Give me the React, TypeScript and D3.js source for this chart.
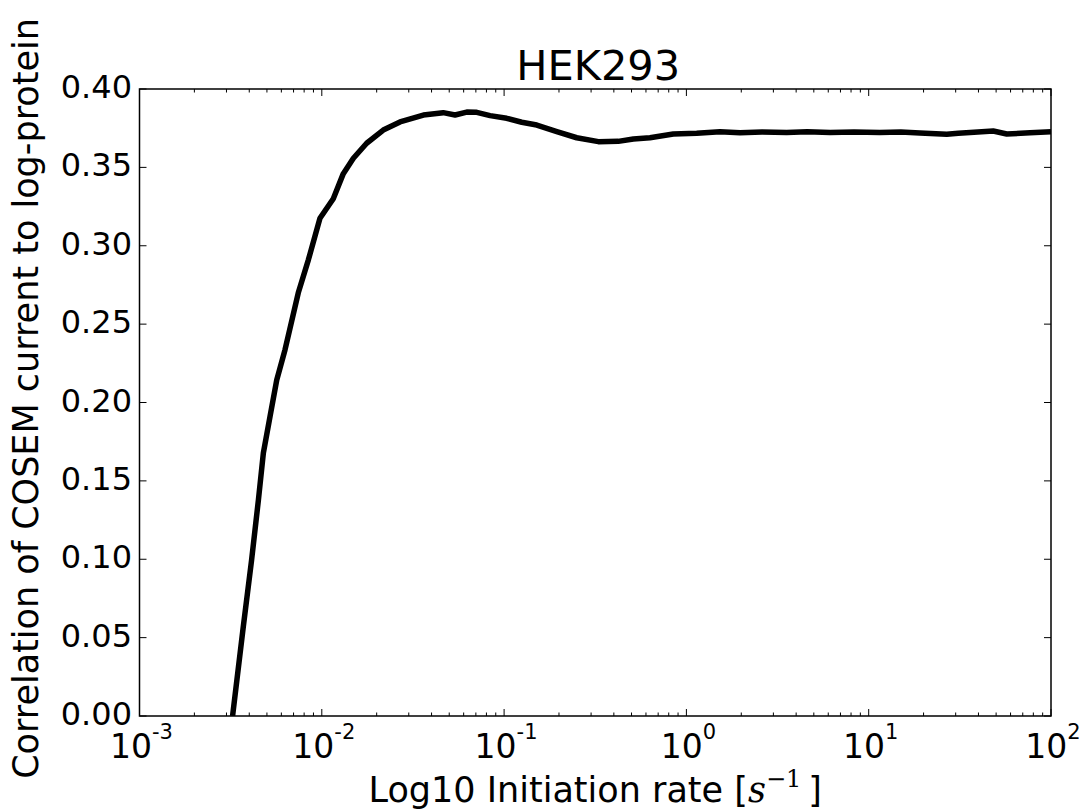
import React, { useRef, useEffect } from "react";
import * as d3 from "d3";

// initiation rate [1/s] and correlation
const rates = [
  0.00324, 0.00371, 0.00412, 0.00449, 0.00478, 0.0052, 0.00566, 0.00628,
  0.00743, 0.00844, 0.00977, 0.01156, 0.01312, 0.0149, 0.01762, 0.02173,
  0.02685, 0.03606, 0.04634, 0.05383, 0.06237, 0.0708, 0.0838, 0.1033, 0.125,
  0.1511, 0.1946, 0.2503, 0.329, 0.4227, 0.5117, 0.631, 0.847, 1.139, 1.528,
  1.968, 2.6, 3.55, 4.6, 6.14, 8.3, 11.5, 15.0, 19.1, 26.8, 31.0, 36.0, 48.2,
  57.2, 76.7, 100,
];
const correlation = [
  0.0, 0.057, 0.0995, 0.1378, 0.1678, 0.191, 0.2144, 0.2335, 0.27, 0.291,
  0.3175, 0.33, 0.346, 0.3558, 0.3654, 0.3738, 0.379, 0.3834, 0.3849, 0.3834,
  0.3853, 0.3851, 0.383, 0.3813, 0.3788, 0.377, 0.3728, 0.3689, 0.3664,
  0.3666, 0.3681, 0.3689, 0.3713, 0.3717, 0.3728, 0.3721, 0.3726, 0.3722,
  0.3728, 0.3722, 0.3725, 0.3722, 0.3726, 0.3719, 0.3711, 0.3718, 0.3722,
  0.3732, 0.3713, 0.3721, 0.3728,
];
const xExponents = [-3, -2, -1, 0, 1, 2];
const yTicks = [0, 0.05, 0.1, 0.15, 0.2, 0.25, 0.3, 0.35, 0.4];

const W = 1081;
const H = 812;
const margin = { top: 89, right: 30, bottom: 96, left: 139.5 };
const font = "'DejaVu Sans', sans-serif";

const App = () => {
  const ref = useRef<SVGSVGElement>(null);

  useEffect(() => {
    const svg = d3.select(ref.current);
    svg.selectAll("*").remove();

    const x0 = margin.left;
    const x1 = W - margin.right;
    const y0 = H - margin.bottom;
    const y1 = margin.top;

    const xScale = d3.scaleLog().domain([1e-3, 1e2]).range([x0, x1]);
    const yScale = d3.scaleLinear().domain([0, 0.4]).range([y0, y1]);

    svg
      .append("defs")
      .append("clipPath")
      .attr("id", "plot-clip")
      .append("rect")
      .attr("x", x0)
      .attr("y", y1)
      .attr("width", x1 - x0)
      .attr("height", y0 - y1);

    // curve
    const line = d3
      .line<number>()
      .x((d, i) => xScale(rates[i]))
      .y((d) => yScale(d));

    svg
      .append("path")
      .datum(correlation)
      .attr("clip-path", "url(#plot-clip)")
      .attr("fill", "none")
      .attr("stroke", "#000")
      .attr("stroke-width", 5.5)
      .attr("stroke-linejoin", "round")
      .attr("d", line);

    // frame
    svg
      .append("rect")
      .attr("x", x0)
      .attr("y", y1)
      .attr("width", x1 - x0)
      .attr("height", y0 - y1)
      .attr("fill", "none")
      .attr("stroke", "#000")
      .attr("stroke-width", 1.5);

    const ticks = svg.append("g").attr("stroke", "#000").attr("stroke-width", 1);

    // x ticks (major + minor), bottom and top, pointing inward
    const minor: number[] = [];
    xExponents.slice(0, -1).forEach((e) => {
      for (let k = 2; k < 10; k++) minor.push(k * Math.pow(10, e));
    });
    const xTicks = [
      ...xExponents.map((e) => ({ v: Math.pow(10, e), len: 7 })),
      ...minor.map((v) => ({ v, len: 3.5 })),
    ];
    xTicks.forEach((t) => {
      const px = xScale(t.v);
      ticks.append("line").attr("x1", px).attr("x2", px).attr("y1", y0).attr("y2", y0 - t.len);
      ticks.append("line").attr("x1", px).attr("x2", px).attr("y1", y1).attr("y2", y1 + t.len);
    });

    // y ticks, left and right
    yTicks.forEach((v) => {
      const py = yScale(v);
      ticks.append("line").attr("x1", x0).attr("x2", x0 + 7).attr("y1", py).attr("y2", py);
      ticks.append("line").attr("x1", x1).attr("x2", x1 - 7).attr("y1", py).attr("y2", py);
    });

    // y tick labels
    svg
      .append("g")
      .selectAll("text")
      .data(yTicks)
      .enter()
      .append("text")
      .attr("x", x0 - 7.5)
      .attr("y", (d) => yScale(d) + 9)
      .attr("text-anchor", "end")
      .attr("font-family", font)
      .attr("font-size", 32)
      .text((d) => d3.format(".2f")(d));

    // x tick labels 10^e
    const xl = svg
      .append("g")
      .selectAll("text")
      .data(xExponents)
      .enter()
      .append("text")
      .attr("x", (d) => xScale(Math.pow(10, d)) + 2)
      .attr("y", 758)
      .attr("text-anchor", "middle")
      .attr("font-family", font)
      .attr("font-size", 33);
    xl.append("tspan").text("10");
    xl.append("tspan")
      .attr("dy", -19)
      .attr("font-size", 21)
      .text((d) => (d < 0 ? "-" + Math.abs(d) : String(d)));

    // title
    svg
      .append("text")
      .attr("x", (x0 + x1) / 2 + 3)
      .attr("y", 80)
      .attr("text-anchor", "middle")
      .attr("font-family", font)
      .attr("font-size", 41.5)
      .text("HEK293");

    // x label
    const xLab = svg
      .append("text")
      .attr("x", (x0 + x1) / 2)
      .attr("y", 802)
      .attr("text-anchor", "middle")
      .attr("font-family", font)
      .attr("font-size", 35);
    xLab.append("tspan").text("Log10 Initiation rate [");
    xLab
      .append("tspan")
      .attr("font-family", "'DejaVu Serif', serif")
      .attr("font-style", "italic")
      .text("s");
    xLab
      .append("tspan")
      .attr("dy", -15)
      .attr("font-size", 24)
      .attr("font-family", "'DejaVu Serif', serif")
      .text("\u22121");
    xLab.append("tspan").attr("dy", 15).text("\u2009]");

    // y label
    svg
      .append("text")
      .attr("transform", `translate(38, ${(y0 + y1) / 2 - 4}) rotate(-90)`)
      .attr("text-anchor", "middle")
      .attr("font-family", font)
      .attr("font-size", 35)
      .text("Correlation of COSEM current to log-protein");
  }, []);

  return (
    <div style={{ position: "absolute", left: 0, top: 0 }}>
      <svg ref={ref} width={W} height={H} style={{ display: "block", background: "#fff" }}></svg>
    </div>
  );
};

export default App;
